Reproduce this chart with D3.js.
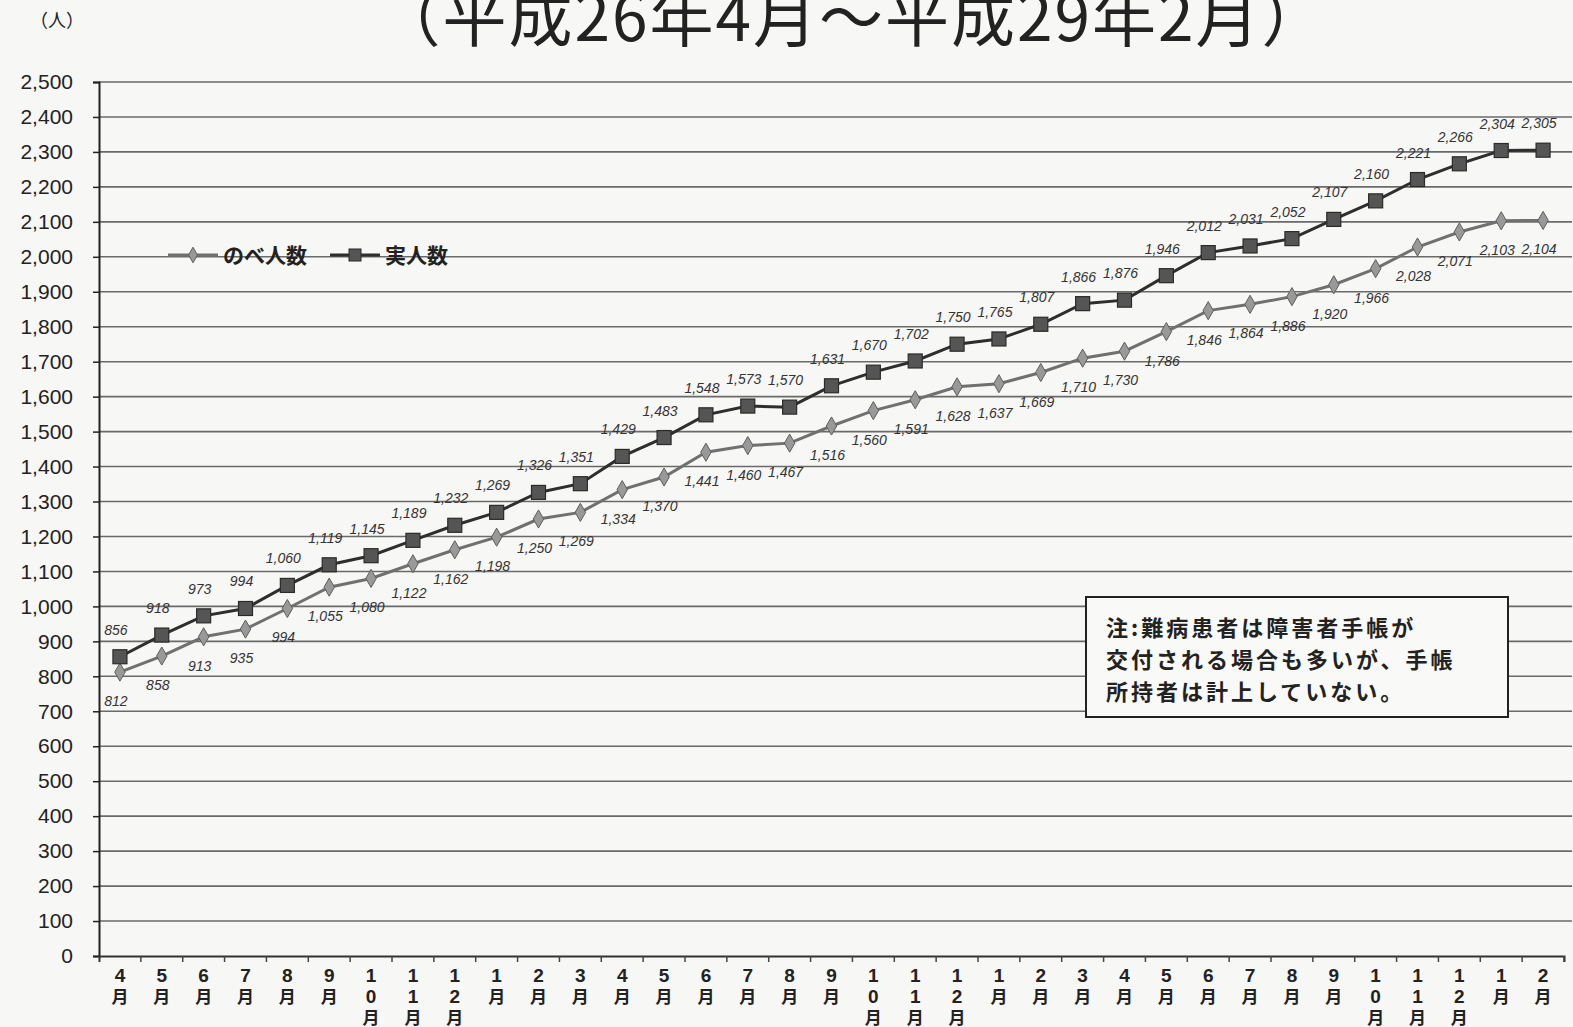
<!DOCTYPE html>
<html lang="ja">
<head>
<meta charset="utf-8">
<script src="https://cdn.jsdelivr.net/npm/d3@7/dist/d3.min.js"></script>
<style>
  html, body { margin: 0; padding: 0; background: #f7f7f5; }
  svg { display: block; font-family: "Liberation Sans", Arial, "Noto Sans CJK JP", sans-serif; }
</style>
</head>
<body>
<svg id="chart" width="1573" height="1027"></svg>
<script>
// 月ラベル（平成26年4月～平成29年2月）
const months = ["4","5","6","7","8","9","10","11","12","1","2","3",
                "4","5","6","7","8","9","10","11","12","1","2","3",
                "4","5","6","7","8","9","10","11","12","1","2"];
// 実人数
const jitsuNinzu = [856, 918, 973, 994, 1060, 1119, 1145, 1189, 1232, 1269, 1326, 1351,
                    1429, 1483, 1548, 1573, 1570, 1631, 1670, 1702, 1750, 1765, 1807, 1866,
                    1876, 1946, 2012, 2031, 2052, 2107, 2160, 2221, 2266, 2304, 2305];
// のべ人数
const nobeNinzu = [812, 858, 913, 935, 994, 1055, 1080, 1122, 1162, 1198, 1250, 1269,
                   1334, 1370, 1441, 1460, 1467, 1516, 1560, 1591, 1628, 1637, 1669, 1710,
                   1730, 1786, 1846, 1864, 1886, 1920, 1966, 2028, 2071, 2103, 2104];
const yTicks = d3.range(0, 2501, 100);
const seriesNames = ["のべ人数", "実人数"];
const noteLines = ["注:難病患者は障害者手帳が", "交付される場合も多いが、手帳", "所持者は計上していない。"];

const svg = d3.select("#chart");
const plotLeft = 99, plotRight = 1564, plotTop = 82, plotBottom = 956;

const idx = months.map((m, i) => i);
const x = d3.scaleBand().domain(idx).range([plotLeft, plotRight]);
const cx = i => x(i) + x.bandwidth() / 2;
const y = d3.scaleLinear().domain([0, 2500]).range([plotBottom, plotTop]);

// 題（上端は紙面の端で切れている）
svg.append("text")
  .attr("x", 852).attr("y", 41)
  .attr("text-anchor", "middle")
  .attr("font-size", 64)
  .attr("letter-spacing", 2)
  .attr("fill", "#222")
  .attr("font-family", "'Noto Sans CJK JP', sans-serif")
  .text("（平成26年4月～平成29年2月）");

svg.append("text")
  .attr("x", 57).attr("y", 27)
  .attr("text-anchor", "middle")
  .attr("font-size", 18)
  .attr("fill", "#222")
  .attr("font-family", "'Noto Sans CJK JP', sans-serif")
  .text("（人）");

// 目盛線
svg.append("g").selectAll("line")
  .data(yTicks.filter(v => v > 0))
  .join("line")
  .attr("x1", plotLeft).attr("x2", plotRight + 8)
  .attr("y1", d => y(d)).attr("y2", d => y(d))
  .attr("stroke", "#6a6a6a").attr("stroke-width", 1.6);

// 縦軸
const yAxis = svg.append("g")
  .attr("transform", `translate(${plotLeft},0)`)
  .call(d3.axisLeft(y).tickValues(yTicks).tickSize(6).tickPadding(20)
        .tickFormat(d3.format(",")));
yAxis.select(".domain").attr("stroke", "#222").attr("stroke-width", 2);
yAxis.selectAll(".tick line").attr("stroke", "#222").attr("stroke-width", 1.5);
yAxis.selectAll("text")
  .attr("font-size", 21).attr("fill", "#222")
  .attr("font-family", "'Liberation Sans', Arial, sans-serif");

// 横軸
const xAxis = svg.append("g")
  .attr("transform", `translate(0,${plotBottom})`)
  .call(d3.axisBottom(x).tickSize(6).tickFormat(""));
xAxis.select(".domain").attr("stroke", "#333").attr("stroke-width", 2);
xAxis.selectAll(".tick line").attr("stroke", "#444").attr("stroke-width", 1.5)
  .attr("transform", `translate(${x.bandwidth() / 2},0)`);

// 月ラベル（縦書き）
const mg = svg.append("g").attr("fill", "#222")
  .attr("font-weight", 700)
  .attr("text-anchor", "middle");
months.forEach((m, i) => {
  const chars = m.split("").concat(["月"]);
  chars.forEach((c, k) => {
    const isDigit = c !== "月";
    mg.append("text")
      .attr("x", cx(i))
      .attr("y", plotBottom + 26 + k * 21)
      .attr("font-size", isDigit ? 19 : 17)
      .attr("font-family", isDigit ? "'Liberation Sans', Arial, sans-serif" : "'Noto Sans CJK JP', sans-serif")
      .text(c);
  });
});

const line = d3.line().x((d, i) => cx(i)).y(d => y(d));

// のべ人数
svg.append("path").datum(nobeNinzu)
  .attr("d", line).attr("fill", "none")
  .attr("stroke", "#707070").attr("stroke-width", 3);
svg.append("g").selectAll("path")
  .data(nobeNinzu).join("path")
  .attr("d", d3.symbol(d3.symbolDiamond, 95))
  .attr("transform", (d, i) => `translate(${cx(i)},${y(d)})`)
  .attr("fill", "#999").attr("stroke", "#5e5e5e").attr("stroke-width", 1);

// 実人数
svg.append("path").datum(jitsuNinzu)
  .attr("d", line).attr("fill", "none")
  .attr("stroke", "#2e2e2e").attr("stroke-width", 3);
svg.append("g").selectAll("rect")
  .data(jitsuNinzu).join("rect")
  .attr("x", (d, i) => cx(i) - 7).attr("y", d => y(d) - 7)
  .attr("width", 14).attr("height", 14)
  .attr("fill", "#555").attr("stroke", "#2a2a2a").attr("stroke-width", 1.2);

// データラベル
const fmt = d3.format(",");
const lab = svg.append("g").attr("font-size", 14).attr("fill", "#333")
  .attr("font-style", "italic").attr("text-anchor", "middle")
  .attr("font-family", "'Liberation Sans', Arial, sans-serif");
jitsuNinzu.forEach((v, i) => {
  lab.append("text").attr("x", cx(i) - 4).attr("y", y(v) - 22).text(fmt(v));
});
nobeNinzu.forEach((v, i) => {
  lab.append("text").attr("x", cx(i) - 4).attr("y", y(v) + 34).text(fmt(v));
});

// 凡例
const lg = svg.append("g").attr("transform", "translate(0,255)");
lg.append("line").attr("x1", 168).attr("x2", 218).attr("stroke", "#707070").attr("stroke-width", 3);
lg.append("path").attr("d", d3.symbol(d3.symbolDiamond, 70)).attr("transform", "translate(193,0)")
  .attr("fill", "#999").attr("stroke", "#5e5e5e");
lg.append("text").attr("x", 223).attr("y", 8).attr("font-size", 21).attr("font-weight", 700)
  .attr("fill", "#222").attr("font-family", "'Noto Sans CJK JP', sans-serif").text(seriesNames[0]);
lg.append("line").attr("x1", 330).attr("x2", 380).attr("stroke", "#2e2e2e").attr("stroke-width", 3);
lg.append("rect").attr("x", 349).attr("y", -6).attr("width", 12).attr("height", 12)
  .attr("fill", "#555").attr("stroke", "#2a2a2a");
lg.append("text").attr("x", 385).attr("y", 8).attr("font-size", 21).attr("font-weight", 700)
  .attr("fill", "#222").attr("font-family", "'Noto Sans CJK JP', sans-serif").text(seriesNames[1]);

// 注記
const note = svg.append("g");
note.append("rect").attr("x", 1086).attr("y", 597).attr("width", 422).attr("height", 120)
  .attr("fill", "#f9f9f7").attr("stroke", "#222").attr("stroke-width", 2);
noteLines.forEach((t, k) => {
  note.append("text").attr("x", 1106).attr("y", 636 + k * 32)
    .attr("font-size", 22).attr("letter-spacing", 3).attr("font-weight", 700).attr("fill", "#222")
    .attr("font-family", "'Noto Sans CJK JP', sans-serif").text(t);
});
</script>
</body>
</html>
